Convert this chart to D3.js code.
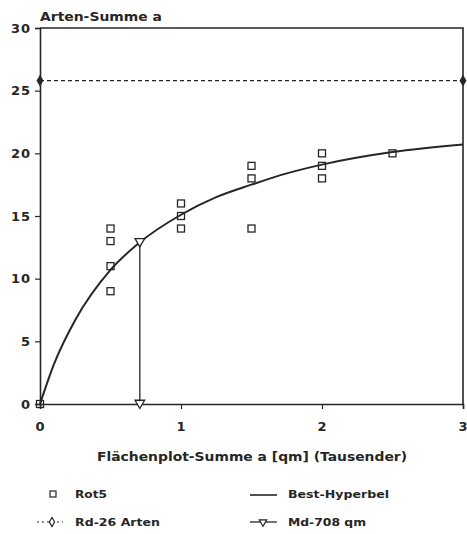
<!DOCTYPE html>
<html>
<head>
<meta charset="utf-8">
<script src="https://cdn.jsdelivr.net/npm/d3@7"></script>
<style>
  html, body { margin: 0; padding: 0; background: #fff; }
  svg text { font-family: "DejaVu Sans", "Liberation Sans", sans-serif; font-weight: bold; fill: #262626; }
</style>
</head>
<body>
<svg id="chart" width="467" height="534"></svg>
<script>
// Species count vs. cumulative plot area (thousands of m²)
const rotX = [0, 0.5, 0.5, 0.5, 0.5, 1, 1, 1, 1.5, 1.5, 1.5, 2, 2, 2, 2.5];
const rotY = [0, 14, 13, 11, 9, 16, 15, 14, 19, 18, 14, 20, 19, 18, 20];

// best-fit hyperbola
const hypX = [0, 0.1, 0.25, 0.5, 0.708, 1, 1.25, 1.5, 1.75, 2, 2.5, 3];
const hypY = [0, 3.2, 6.7, 10.7, 12.9, 15.1, 16.5, 17.5, 18.4, 19.1, 20.1, 20.7];

// asymptote (Rd) and half-saturation area (Md)
const rdX = [0, 3];
const rdY = [25.8, 25.8];
const mdX = [0.708, 0.708];
const mdY = [0, 12.9];

const xTicks = [0, 1, 2, 3];
const yTicks = [0, 5, 10, 15, 20, 25, 30];

const legendLabels = ["Rot5", "Rd-26 Arten", "Best-Hyperbel", "Md-708 qm"];

const ink = "#262626";
const svg = d3.select("#chart");
const m = { left: 40, right: 463, top: 28, bottom: 404 };

const x = d3.scaleLinear().domain([0, 3]).range([m.left, m.right]);
const y = d3.scaleLinear().domain([0, 30]).range([m.bottom, m.top]);

// frame: top and right border
svg.append("path")
  .attr("d", `M${m.left},${m.top}H${m.right}V${m.bottom}`)
  .attr("fill", "none").attr("stroke", ink).attr("stroke-width", 1.6);

// axes
const yAxis = svg.append("g").attr("transform", `translate(${m.left},0)`)
  .call(d3.axisLeft(y).tickValues(yTicks).tickSize(5).tickPadding(5).tickFormat(d3.format("d")));
const xAxis = svg.append("g").attr("transform", `translate(0,${m.bottom})`)
  .call(d3.axisBottom(x).tickValues(xTicks).tickSize(5).tickPadding(13).tickFormat(d3.format("d")));
[yAxis, xAxis].forEach(g => {
  g.select(".domain").attr("stroke", ink).attr("stroke-width", 1.6);
  g.selectAll(".tick line").attr("stroke", ink).attr("stroke-width", 1.2);
  g.selectAll(".tick text").attr("font-size", 13).attr("letter-spacing", 1).style("font-family", "DejaVu Sans").style("font-weight", "bold").attr("fill", ink);
});
yAxis.selectAll(".tick text").attr("x", -9);

// axis titles
svg.append("text").attr("x", 40).attr("y", 21).attr("font-size", 12.5)
  .attr("textLength", 122).attr("lengthAdjust", "spacingAndGlyphs").text("Arten-Summe a");
svg.append("text").attr("x", 97).attr("y", 461).attr("font-size", 12.5)
  .attr("textLength", 310).attr("lengthAdjust", "spacingAndGlyphs").text("Flächenplot-Summe a [qm] (Tausender)");

// Rd asymptote: dashed line with diamonds
const line = d3.line().x(d => x(d[0])).y(d => y(d[1]));
svg.append("path").datum(d3.zip(rdX, rdY)).attr("d", line)
  .attr("fill", "none").attr("stroke", ink).attr("stroke-width", 1.2).attr("stroke-dasharray", "4,3");
const diamond = d3.symbol().type(d3.symbolDiamond).size(30);
svg.selectAll(".rd").data(d3.zip(rdX, rdY)).join("path")
  .attr("transform", d => `translate(${x(d[0])},${y(d[1])})`)
  .attr("d", diamond).attr("fill", ink).attr("stroke", ink).attr("stroke-width", 1);

// best hyperbola
svg.append("path").datum(d3.zip(hypX, hypY))
  .attr("d", line.curve(d3.curveMonotoneX))
  .attr("fill", "none").attr("stroke", ink).attr("stroke-width", 2);
line.curve(d3.curveLinear);

// Md: vertical line with downward triangles at both ends
svg.append("path").datum(d3.zip(mdX, mdY)).attr("d", line)
  .attr("fill", "none").attr("stroke", ink).attr("stroke-width", 1.3);
const tri = d3.symbol().type(d3.symbolTriangle).size(40);
svg.selectAll(".md").data(d3.zip(mdX, mdY)).join("path")
  .attr("transform", d => `translate(${x(d[0])},${y(d[1]) - 1}) rotate(180)`)
  .attr("d", tri).attr("fill", "#fff").attr("stroke", ink).attr("stroke-width", 1.3);

// Rot5 observations: open squares
svg.selectAll(".rot").data(d3.zip(rotX, rotY)).join("rect")
  .attr("x", d => x(d[0]) - 3.5).attr("y", d => y(d[1]) - 3.5)
  .attr("width", 7).attr("height", 7)
  .attr("fill", "none").attr("stroke", ink).attr("stroke-width", 1.3);

// legend
const lg = svg.append("g");
lg.append("rect").attr("x", 50).attr("y", 491).attr("width", 6).attr("height", 6)
  .attr("fill", "none").attr("stroke", ink).attr("stroke-width", 1.2);
lg.append("line").attr("x1", 37).attr("x2", 63).attr("y1", 522).attr("y2", 522)
  .attr("stroke", ink).attr("stroke-width", 1).attr("stroke-dasharray", "2,3");
lg.append("path").attr("transform", "translate(52,522)").attr("d", d3.symbol().type(d3.symbolDiamond).size(24))
  .attr("fill", "#fff").attr("stroke", ink).attr("stroke-width", 1.2);
lg.append("line").attr("x1", 250).attr("x2", 277).attr("y1", 495).attr("y2", 495)
  .attr("stroke", ink).attr("stroke-width", 1.6);
lg.append("line").attr("x1", 250).attr("x2", 277).attr("y1", 522).attr("y2", 522)
  .attr("stroke", ink).attr("stroke-width", 1.3);
lg.append("path").attr("transform", "translate(263,522) rotate(180)").attr("d", d3.symbol().type(d3.symbolTriangle).size(24))
  .attr("fill", "#fff").attr("stroke", ink).attr("stroke-width", 1.2);

const legPos = [[75, 498, 32], [75, 526, 85], [288, 498, 101], [288, 526, 78]];
lg.selectAll("text").data(legendLabels).join("text")
  .attr("x", (d, i) => legPos[i][0]).attr("y", (d, i) => legPos[i][1])
  .attr("font-size", 10.5)
  .attr("textLength", (d, i) => legPos[i][2]).attr("lengthAdjust", "spacingAndGlyphs")
  .text(d => d);
</script>
</body>
</html>
